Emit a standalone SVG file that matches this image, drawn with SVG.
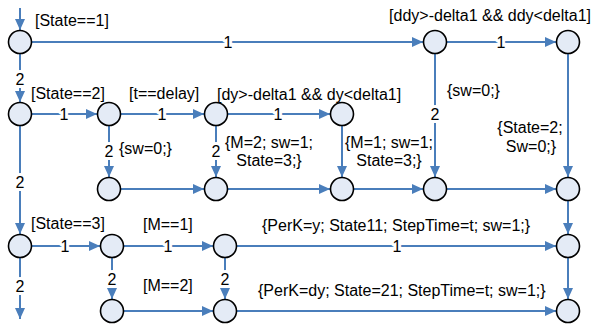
<svg xmlns="http://www.w3.org/2000/svg" width="594" height="332" viewBox="0 0 594 332">
  <style>
    .edge { fill: none; stroke: #4a7ebb; stroke-width: 2; marker-end: url(#arrow); }
    .node circle { fill: #e4ebf6; stroke: #000; stroke-width: 1.6; }
    text { font-family: "Liberation Sans", Arial, sans-serif; font-size: 16px; fill: #000; }
    .el { text-anchor: middle; stroke: #fff; stroke-width: 6; stroke-linejoin: round; paint-order: stroke; }
    .mid { text-anchor: middle; }
  </style>
  <defs>
    <marker id="arrow" markerUnits="userSpaceOnUse" markerWidth="11" markerHeight="10" refX="11" refY="5" orient="auto">
      <path d="M0,0 L11,5 L0,10 z" fill="#4a7ebb"/>
    </marker>
  </defs>
  <rect width="594" height="332" fill="#fff"/>

  <g id="connectors">
    <!-- entry and exits -->
    <path class="edge" d="M20 8 V30"/>
    <path class="edge" d="M20 258 V319"/>
    <!-- row 1 -->
    <path class="edge" d="M32 42 H423"/>
    <path class="edge" d="M447 42 H556"/>
    <!-- row 2 -->
    <path class="edge" d="M20 54 V102"/>
    <path class="edge" d="M32 114 H97"/>
    <path class="edge" d="M121 114 H204"/>
    <path class="edge" d="M228 114 H330"/>
    <!-- verticals into row 3 -->
    <path class="edge" d="M109 126 V177"/>
    <path class="edge" d="M216 126 V177"/>
    <path class="edge" d="M342 126 V177"/>
    <path class="edge" d="M435 54 V177"/>
    <path class="edge" d="M568 54 V177"/>
    <!-- row 3 -->
    <path class="edge" d="M121 189 H204"/>
    <path class="edge" d="M228 189 H330"/>
    <path class="edge" d="M354 189 H423"/>
    <path class="edge" d="M447 189 H556"/>
    <!-- row 4 -->
    <path class="edge" d="M20 126 V234"/>
    <path class="edge" d="M32 246 H100"/>
    <path class="edge" d="M124 246 H213"/>
    <path class="edge" d="M237 246 H556"/>
    <path class="edge" d="M568 201 V234"/>
    <!-- row 5 -->
    <path class="edge" d="M112 258 V299"/>
    <path class="edge" d="M225 258 V299"/>
    <path class="edge" d="M124 311 H213"/>
    <path class="edge" d="M237 311 H556"/>
    <path class="edge" d="M568 258 V299"/>

    <!-- branch numbers -->
    <text class="el" x="228" y="48">1</text>
    <text class="el" x="501" y="48">1</text>
    <text class="el" x="64" y="120">1</text>
    <text class="el" x="162" y="120">1</text>
    <text class="el" x="278" y="120">1</text>
    <text class="el" x="65" y="252">1</text>
    <text class="el" x="168" y="252">1</text>
    <text class="el" x="397" y="252">1</text>
    <text class="el" x="20" y="85">2</text>
    <text class="el" x="20" y="188">2</text>
    <text class="el" x="20" y="292">2</text>
    <text class="el" x="109" y="157">2</text>
    <text class="el" x="216" y="157">2</text>
    <text class="el" x="435" y="120">2</text>
    <text class="el" x="112" y="285">2</text>
    <text class="el" x="225" y="285">2</text>

    <!-- conditions and actions -->
    <text x="35" y="26">[State==1]</text>
    <text x="591" y="21" text-anchor="end">[ddy&gt;-delta1 &amp;&amp; ddy&lt;delta1]</text>
    <text x="31" y="99">[State==2]</text>
    <text x="129" y="99">[t==delay]</text>
    <text x="217" y="100">[dy&gt;-delta1 &amp;&amp; dy&lt;delta1]</text>
    <text x="447" y="96">{sw=0;}</text>
    <text class="mid" x="530" y="133">{State=2;</text>
    <text class="mid" x="531" y="152">Sw=0;}</text>
    <text x="119" y="154">{sw=0;}</text>
    <text class="mid" x="269" y="148">{M=2; sw=1;</text>
    <text class="mid" x="269" y="166">State=3;}</text>
    <text class="mid" x="389" y="148">{M=1; sw=1;</text>
    <text class="mid" x="389" y="166">State=3;}</text>
    <text x="31" y="229">[State==3]</text>
    <text x="143" y="230">[M==1]</text>
    <text x="262" y="231">{PerK=y; State11; StepTime=t; sw=1;}</text>
    <text x="143" y="291">[M==2]</text>
    <text x="258" y="296">{PerK=dy; State=21; StepTime=t; sw=1;}</text>
  </g>

  <g id="n1" class="node"><circle cx="20" cy="42" r="11.5"/></g>
  <g id="n2" class="node"><circle cx="435" cy="42" r="11.5"/></g>
  <g id="n3" class="node"><circle cx="568" cy="42" r="11.5"/></g>
  <g id="n4" class="node"><circle cx="20" cy="114" r="11.5"/></g>
  <g id="n5" class="node"><circle cx="109" cy="114" r="11.5"/></g>
  <g id="n6" class="node"><circle cx="216" cy="114" r="11.5"/></g>
  <g id="n7" class="node"><circle cx="342" cy="114" r="11.5"/></g>
  <g id="n8" class="node"><circle cx="109" cy="189" r="11.5"/></g>
  <g id="n9" class="node"><circle cx="216" cy="189" r="11.5"/></g>
  <g id="n10" class="node"><circle cx="342" cy="189" r="11.5"/></g>
  <g id="n11" class="node"><circle cx="435" cy="189" r="11.5"/></g>
  <g id="n12" class="node"><circle cx="568" cy="189" r="11.5"/></g>
  <g id="n13" class="node"><circle cx="20" cy="246" r="11.5"/></g>
  <g id="n14" class="node"><circle cx="112" cy="246" r="11.5"/></g>
  <g id="n15" class="node"><circle cx="225" cy="246" r="11.5"/></g>
  <g id="n16" class="node"><circle cx="568" cy="246" r="11.5"/></g>
  <g id="n17" class="node"><circle cx="112" cy="311" r="11.5"/></g>
  <g id="n18" class="node"><circle cx="225" cy="311" r="11.5"/></g>
  <g id="n19" class="node"><circle cx="568" cy="311" r="11.5"/></g>
</svg>
